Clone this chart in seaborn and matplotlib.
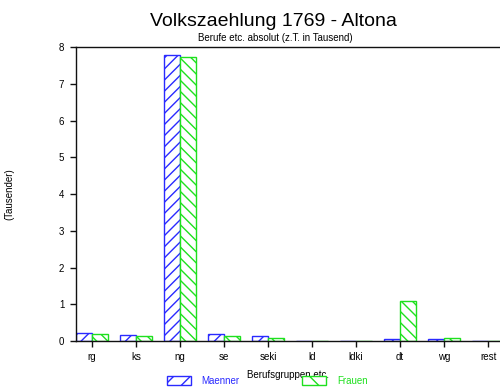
import matplotlib

matplotlib.use("Agg")
import matplotlib.pyplot as plt
import pandas as pd
import seaborn as sns
from matplotlib.patches import Patch

# data (values in thousands)
categories = ["rg", "ks", "ng", "se", "seki", "ld", "ldki", "dt", "wg", "rest"]
maenner = [0.21, 0.155, 7.78, 0.18, 0.13, 0.01, 0.01, 0.05, 0.045, 0.01]
frauen = [0.19, 0.14, 7.73, 0.14, 0.07, 0.005, 0.005, 1.08, 0.07, 0.005]
series_names = ["Maenner", "Frauen"]
y_ticks = [0, 1, 2, 3, 4, 5, 6, 7, 8]

blue = "#2a2aff"
green = "#1ee01e"

sns.set_style("ticks")
plt.rcParams["font.family"] = ["Liberation Sans", "DejaVu Sans"]
plt.rcParams["hatch.linewidth"] = 1.0
for key in ["text.color", "axes.labelcolor", "xtick.color", "ytick.color"]:
    plt.rcParams[key] = "black"

df = pd.DataFrame({"kat": categories * 2,
                   "wert": maenner + frauen,
                   "geschlecht": [series_names[0]] * len(categories) + [series_names[1]] * len(categories)})

fig = plt.figure(figsize=(5.0, 3.92), dpi=100)
ax = fig.add_axes([0.152, 0.130, 0.848, 0.750])

sns.barplot(data=df, x="kat", y="wert", hue="geschlecht", order=categories,
            hue_order=series_names, palette=[blue, green], width=0.73,
            fill=False, legend=False, ax=ax)

# white bars with coloured edges and hatching
for cont, col, hatch in zip(ax.containers, [blue, green], ["///", "\\\\\\"]):
    for bar in cont:
        bar.set_facecolor("white")
        bar.set_edgecolor(col)
        bar.set_hatch(hatch)
        bar.set_linewidth(1.0)

ax.set_xlim(-0.364, 9.27)
ax.set_ylim(0, 8)
ax.set_yticks(y_ticks)
ax.spines["right"].set_visible(False)
for s in ["left", "bottom", "top"]:
    ax.spines[s].set_linewidth(1.0)
    ax.spines[s].set_color("#111111")
ax.tick_params(axis="both", labelsize=7, length=4.5, width=1.0, color="#111111")
ax.tick_params(axis="x", pad=3.5)
ax.tick_params(axis="y", pad=4)

ax.set_xlabel("Berufsgruppen etc.", fontsize=7, labelpad=6)
ax.set_ylabel("(Tausender)", fontsize=7)
ax.yaxis.set_label_coords(-0.145, 0.5)

fig.text(0.546, 0.946, "Volkszaehlung 1769 - Altona", fontsize=14, ha="center", va="center")
fig.text(0.55, 0.903, "Berufe etc. absolut (z.T. in Tausend)", fontsize=7, ha="center", va="center")

handles = [Patch(facecolor="white", edgecolor=blue, hatch="//", label=series_names[0]),
           Patch(facecolor="white", edgecolor=green, hatch="\\\\", label=series_names[1])]
fig.legend(handles=handles, loc="center", bbox_to_anchor=(0.534, 0.028), ncol=2,
           frameon=False, fontsize=7, handlelength=2.5, handleheight=1.0,
           handletextpad=1.1, columnspacing=6.4, labelcolor=[blue, green])

fig.savefig("out.png", dpi=100)
